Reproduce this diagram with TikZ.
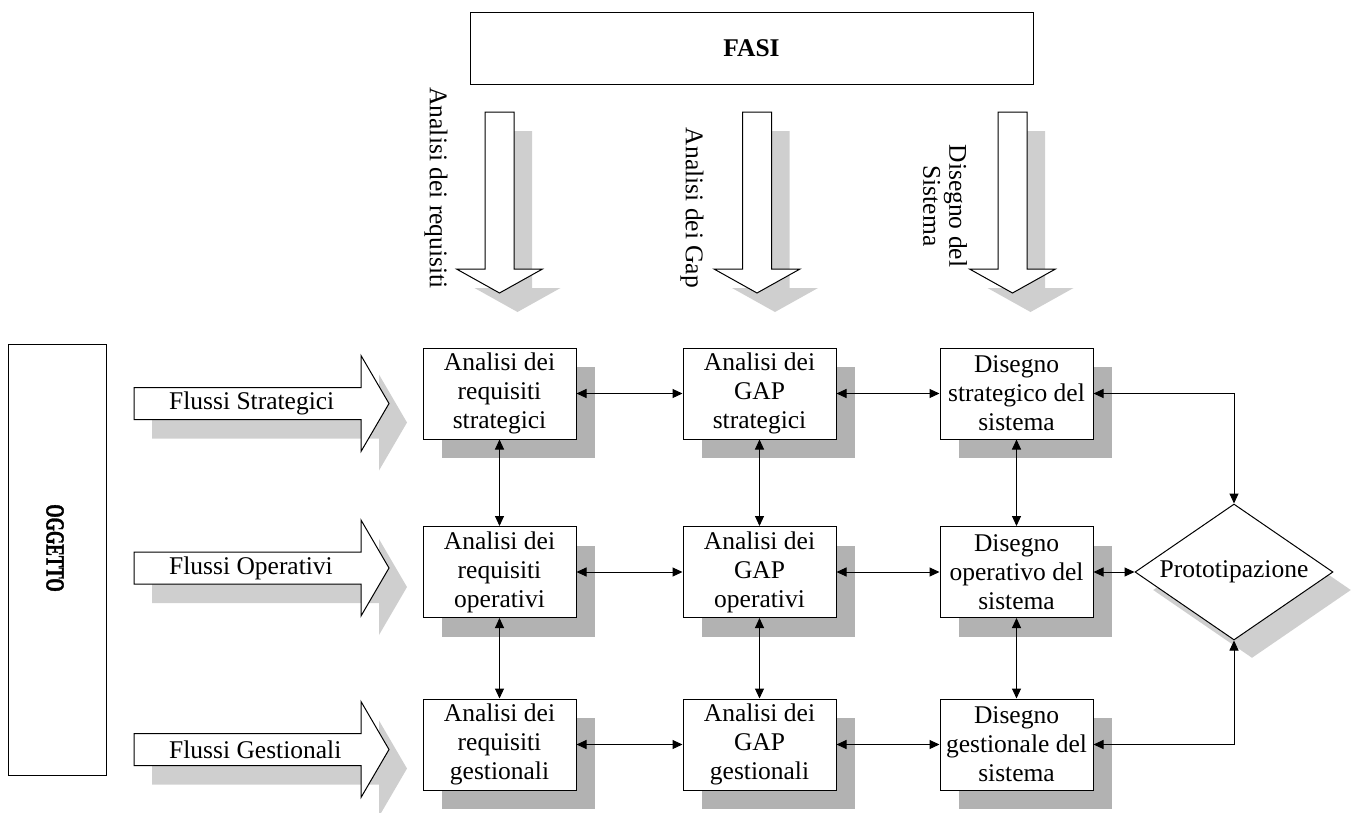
\documentclass[tikz,border=0pt]{standalone}
\usepackage{fontspec}
\setmainfont{Liberation Serif}
\newfontfamily\heavyfont{Liberation Serif}[FakeBold=1.8]
\usetikzlibrary{arrows.meta,shapes.geometric,shadows}
\definecolor{boxshade}{HTML}{B2B2B2}
\definecolor{arrowshade}{HTML}{CFCFCF}
\newcommand\bodyfont{\fontsize{25.5}{29}\selectfont}
% outlines of the two kinds of block arrow, drawn from their origin
\newcommand\downpoly{(-14.5,0) -- (14.5,0) -- (14.5,157) -- (43,157) -- (0,181) -- (-43,157) -- (-14.5,157) -- cycle}
\newcommand\rightpoly{(0,-16) -- (227,-16) -- (227,-48) -- (255,0) -- (227,48) -- (227,16) -- (0,16) -- cycle}
\begin{document}
\begin{tikzpicture}[x=1pt,y=-1pt,
  every node/.style={font=\bodyfont},
  frame/.style={draw, line width=1pt, fill=white},
  stage/.style={frame, minimum width=153pt, minimum height=91pt, inner sep=0pt, align=center,
    general shadow={fill=boxshade, shadow xshift=18.5pt, shadow yshift=-19pt}},
  proto/.style={frame, diamond, aspect=1.456, minimum width=198pt, minimum height=136pt, inner sep=0pt,
    general shadow={fill=arrowshade, shadow xshift=18pt, shadow yshift=-18pt}},
  link/.style={line width=1pt, {Triangle[length=10pt,width=9pt]}-{Triangle[length=10pt,width=9pt]}},
  blockarrow/.style={draw, line width=1pt, fill=white, line join=miter},
  pics/phasearrow/.style={code={
    \begin{scope}[shift={(18,19)}]\fill[arrowshade] \downpoly;\end{scope}
    \draw[blockarrow] \downpoly;
  }},
  pics/flowarrow/.style={code={
    \begin{scope}[shift={(18,19)}]\fill[arrowshade] \rightpoly;\end{scope}
    \draw[blockarrow] \rightpoly;
  }}
]
\useasboundingbox (0,0) rectangle (1355,812);

% phases
\node[frame, minimum width=563pt, minimum height=72pt, font=\bodyfont\bfseries] (fasi) at (751.5,48) {FASI};
\pic (pa1) at (499.5,112) {phasearrow};
\pic (pa2) at (757,112) {phasearrow};
\pic (pa3) at (1012.5,112) {phasearrow};
\node[rotate=-90] (t1) at (436,188) {Analisi dei requisiti};
\node[rotate=-90] (t2) at (692,208) {Analisi dei Gap};
\node[rotate=-90, align=center, font=\fontsize{25.5}{26}\selectfont] (t3) at (945,206) {Disegno del\\Sistema};

% object
\node[frame, minimum width=98pt, minimum height=431pt] (ogg) at (57,559.5) {};
\node[rotate=-90, font=\fontsize{26}{30}\heavyfont\bfseries] (oggt) at (55,548) {\scalebox{0.66}[1]{OGGETTO}};

% flows
\pic (fa1) at (134,403.5) {flowarrow};
\pic (fa2) at (134,568) {flowarrow};
\pic (fa3) at (134,749.5) {flowarrow};
\node[anchor=west, inner sep=0pt] (f1) at (169,403.5) {Flussi Strategici};
\node[anchor=west, inner sep=0pt] (f2) at (169,568) {Flussi Operativi};
\node[anchor=west, inner sep=0pt] (f3) at (169,749.5) {Flussi Gestionali};

% grid of activities
\node[stage] (b11) at (499.5,393.5) {Analisi dei\\requisiti\\strategici};
\node[stage] (b12) at (759.5,393.5) {Analisi dei\\GAP\\strategici};
\node[stage] (b13) at (1016.5,393.5) {Disegno\\strategico del\\sistema};
\node[stage] (b21) at (499.5,572) {Analisi dei\\requisiti\\operativi};
\node[stage] (b22) at (759.5,572) {Analisi dei\\GAP\\operativi};
\node[stage] (b23) at (1016.5,572) {Disegno\\operativo del\\sistema};
\node[stage] (b31) at (499.5,744.5) {Analisi dei\\requisiti\\gestionali};
\node[stage] (b32) at (759.5,744.5) {Analisi dei\\GAP\\gestionali};
\node[stage] (b33) at (1016.5,744.5) {Disegno\\gestionale del\\sistema};

\node[proto] (pr) at (1234,572) {Prototipazione};

% connections
\foreach \r in {1,2,3}{
  \draw[link] (b\r1.east) -- (b\r2.west);
  \draw[link] (b\r2.east) -- (b\r3.west);
}
\foreach \c in {1,2,3}{
  \draw[link] (b1\c.south) -- (b2\c.north);
  \draw[link] (b2\c.south) -- (b3\c.north);
}
\draw[link] (b13.east) -| (pr.north);
\draw[link] (b23.east) -- (pr.west);
\draw[link] (b33.east) -| (pr.south);
\end{tikzpicture}
\end{document}
